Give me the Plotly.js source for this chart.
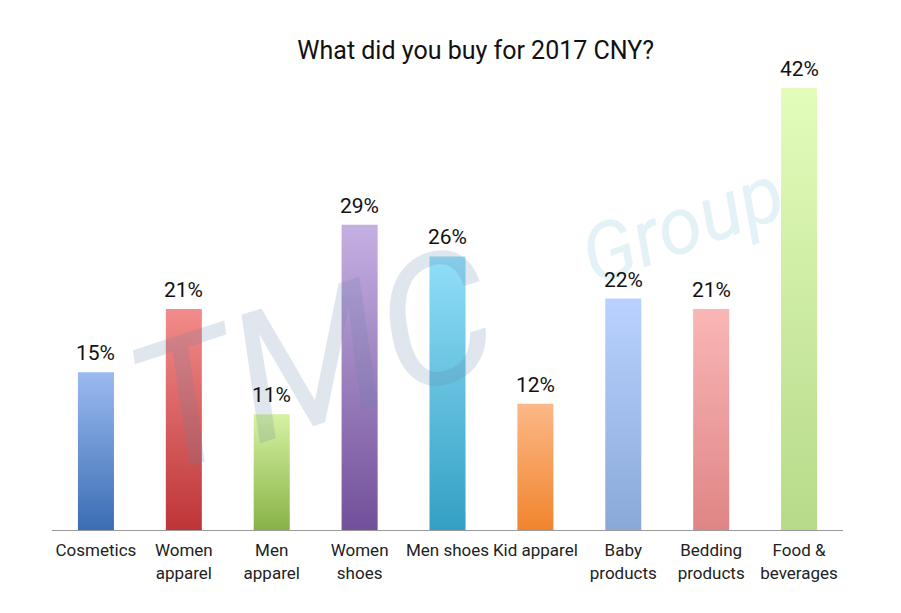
<!DOCTYPE html>
<html>
<head>
<meta charset="utf-8">
<script src="https://cdn.plot.ly/plotly-3.0.1.min.js"></script>
<style>html,body{margin:0;padding:0;background:#fff;}#chart{width:901px;height:613px;}</style>
</head>
<body>
<div id="chart"></div>
<script>
const categories = ["Cosmetics", "Women<br>apparel", "Men<br>apparel", "Women<br>shoes", "Men shoes", "Kid apparel", "Baby<br>products", "Bedding<br>products", "Food &<br>beverages"];
const values = [15, 21, 11, 29, 26, 12, 22, 21, 42];
const labels = ["15%", "21%", "11%", "29%", "26%", "12%", "22%", "21%", "42%"];
const topColors = ["#9bbaf0", "#f28c8a", "#d6f2a2", "#c5b0e2", "#92def9", "#fcb887", "#bad2ff", "#fab6b6", "#e3fcba"];
const bottomColors = ["#3a6db4", "#be3537", "#88b247", "#72509a", "#33a0c3", "#f0852e", "#89a9d8", "#df8585", "#b6da8a"];

const trace = {
  type: "bar",
  x: categories,
  y: values,
  marker: {color: bottomColors, line: {width: 0}},
  hoverinfo: "none",
  cliponaxis: false
};

const valueAnnotations = categories.map(function (c, i) {
  return {x: c, y: values[i], xref: "x", yref: "y", text: labels[i], showarrow: false,
          xanchor: "center", yanchor: "middle", yshift: 19,
          font: {family: "Roboto", size: 21, color: "#111"}};
});

const watermark = [
  {text: "<i>TMC</i>", xref: "paper", yref: "paper", x: 0.33, y: 0.355, xanchor: "center", yanchor: "middle",
   showarrow: false, textangle: -18,
   font: {family: "Roboto", size: 180, color: "rgba(100,130,165,0.2)"}},
  {text: "<i>Group</i>", xref: "paper", yref: "paper", x: 0.797, y: 0.643, xanchor: "center", yanchor: "middle",
   showarrow: false, textangle: -20,
   font: {family: "Roboto", size: 80, color: "rgba(90,180,200,0.17)"}}
];

const layout = {
  width: 901, height: 613,
  margin: {l: 52, r: 58, t: 56, b: 83},
  paper_bgcolor: "#fff", plot_bgcolor: "rgba(0,0,0,0)",
  title: {text: "What did you buy for 2017 CNY?", x: 0.528, xanchor: "center", y: 0.918, yanchor: "middle",
          font: {family: "Roboto", size: 25, color: "#111"}},
  bargap: 0.59,
  showlegend: false,
  xaxis: {showline: true, linecolor: "#999", linewidth: 1, ticks: "", showgrid: false, zeroline: false,
          ticklabelstandoff: 5,
          tickfont: {family: "Roboto", size: 17, color: "#222"}, fixedrange: true},
  yaxis: {range: [0, 45.05], visible: false, showgrid: false, zeroline: false, fixedrange: true},
  annotations: watermark.concat(valueAnnotations)
};

Plotly.newPlot("chart", [trace], layout, {displayModeBar: false, staticPlot: true}).then(function (gd) {
  const svg = gd.querySelector("svg.main-svg");
  const ns = "http://www.w3.org/2000/svg";
  let defs = svg.querySelector("defs");
  if (!defs) { defs = document.createElementNS(ns, "defs"); svg.insertBefore(defs, svg.firstChild); }
  topColors.forEach(function (c, i) {
    const g = document.createElementNS(ns, "linearGradient");
    g.setAttribute("id", "barGrad" + i);
    g.setAttribute("x1", "0"); g.setAttribute("y1", "0"); g.setAttribute("x2", "0"); g.setAttribute("y2", "1");
    const s1 = document.createElementNS(ns, "stop"); s1.setAttribute("offset", "0"); s1.setAttribute("stop-color", c);
    const s2 = document.createElementNS(ns, "stop"); s2.setAttribute("offset", "1"); s2.setAttribute("stop-color", bottomColors[i]);
    g.appendChild(s1); g.appendChild(s2); defs.appendChild(g);
  });
  gd.querySelectorAll(".barlayer .point path").forEach(function (p, i) {
    p.style.fill = "url(#barGrad" + i + ")";
  });
});
</script>
</body>
</html>
